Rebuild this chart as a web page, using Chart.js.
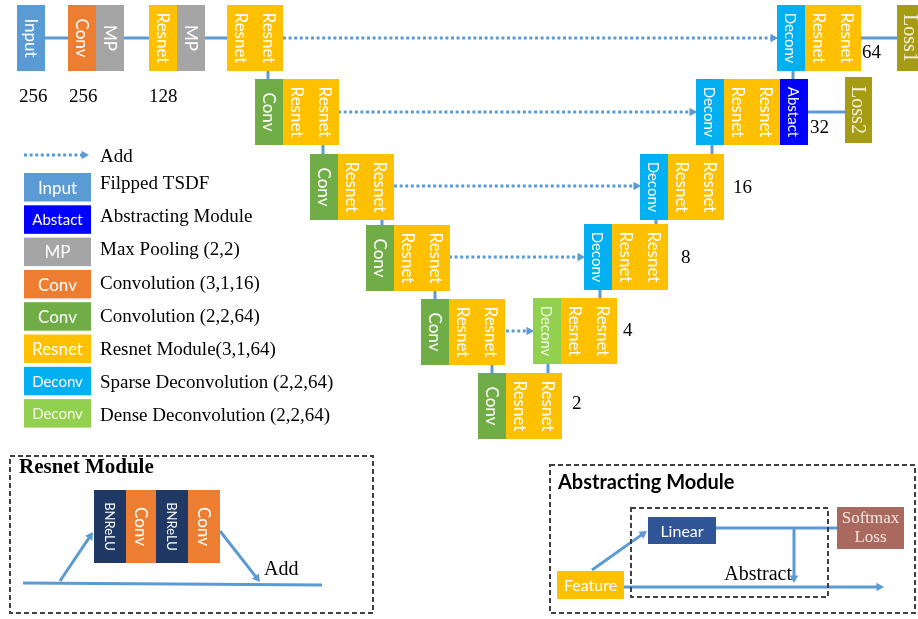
<!DOCTYPE html>
<html>
<head>
<meta charset="utf-8">
<script src="https://cdn.jsdelivr.net/npm/chart.js@4/dist/chart.umd.min.js"></script>
<style>
  html, body { margin: 0; padding: 0; background: #fff; }
  canvas { display: block; }
</style>
</head>
<body>
<canvas id="net" width="918" height="619"></canvas>
<script>
// Network stacks (U shape): left edge, top edge and the kinds of their columns
const stackLeft = [17, 68, 149, 227, 255, 310, 366, 421, 478, 533, 584, 640, 696, 777];
const stackTop = [5, 5, 5, 5, 79, 154, 225, 299, 373, 298, 224, 154, 79, 5];
const stackKinds = [
    ['Input'], ['ConvA', 'MP'], ['Resnet', 'MP'], ['Resnet', 'Resnet'],
    ['ConvB', 'Resnet', 'Resnet'], ['ConvB', 'Resnet', 'Resnet'], ['ConvB', 'Resnet', 'Resnet'],
    ['ConvB', 'Resnet', 'Resnet'], ['ConvB', 'Resnet', 'Resnet'],
    ['Dense', 'Resnet', 'Resnet'], ['Deconv', 'Resnet', 'Resnet'], ['Deconv', 'Resnet', 'Resnet'],
    ['Deconv', 'Resnet', 'Resnet', 'Abstact'], ['Deconv', 'Resnet', 'Resnet']
];

// Loss heads
const lossNames = ['Loss1', 'Loss2'];
const lossLeft = [897, 845];
const lossTop = [5, 77];

// Resolution labels
const sizeLabels = ['256', '256', '128', '64', '32', '16', '8', '4', '2'];
const sizeX = [19, 69, 149, 862, 810, 733, 681, 623, 572];
const sizeY = [97, 97, 97, 53, 128, 188, 258, 331, 404];

// Legend
const legendKinds = ['Input', 'Abstact', 'MP', 'ConvA', 'ConvB', 'Resnet', 'Deconv', 'Dense'];
const legendTexts = ['Filpped TSDF', 'Abstracting Module', 'Max Pooling (2,2)', 'Convolution (3,1,16)',
    'Convolution (2,2,64)', 'Resnet Module(3,1,64)', 'Sparse Deconvolution (2,2,64)', 'Dense Deconvolution (2,2,64)'];

// Connections [x0, y0, x1, y1]
const solidLinks = [
    [45, 38, 68, 38], [124, 38, 149, 38], [205, 38, 227, 38], [861, 38, 897, 38], [808, 112, 845, 112],
    [268, 71, 268, 79], [323, 145, 323, 154], [382, 220, 382, 225], [435, 291, 435, 299], [492, 365, 492, 373],
    [548, 363, 548, 373], [600, 290, 600, 298], [656, 220, 656, 224], [712, 145, 712, 154], [793, 71, 793, 79],
    [23, 583, 322, 585], [716, 528, 837, 528]
];
const arrowLinks = [
    [60, 581, 93, 532], [220, 531, 260, 582], [592, 570, 647, 531], [794, 528, 794, 583], [624, 587, 884, 587]
];
const skipLinks = [
    [283, 38, 778, 38], [338, 112, 697, 112], [394, 186, 641, 186], [449, 257, 585, 257], [506, 331, 534, 331],
    [24, 155, 89, 155]
];

// Resnet module detail
const resKinds = ['BNReLU', 'ConvA', 'BNReLU', 'ConvA'];
const resLeft = [94, 126, 156, 188];

const kindColor = {
    Input: '#5B9BD5', ConvA: '#ED7D31', MP: '#A5A5A5', Resnet: '#FFC000', ConvB: '#70AD47',
    Deconv: '#00B0F0', Dense: '#92D050', Abstact: '#0000FF', BNReLU: '#203864'
};
const kindText = {
    Input: 'Input', ConvA: 'Conv', MP: 'MP', Resnet: 'Resnet', ConvB: 'Conv',
    Deconv: 'Deconv', Dense: 'Deconv', Abstact: 'Abstact', BNReLU: 'BNReLU'
};
const kindFont = {
    Input: 17, ConvA: 17, MP: 17, Resnet: 17, ConvB: 17, Deconv: 15, Dense: 15, Abstact: 15, BNReLU: 13
};

const COL_W = 28, COL_H = 66;
const LINE = '#5B9BD5';
const SANS = 'Lato, "Open Sans", sans-serif';
const SERIF = '"Liberation Serif", "Times New Roman", serif';

function makeLine(l, opts) {
    let [x0, y0, x1, y1] = l;
    const ds = {
        data: [{x: x0, y: y0}, {x: x1, y: y1}],
        showLine: true,
        borderColor: LINE,
        borderWidth: 3,
        borderCapStyle: 'butt',
        pointRadius: 0
    };
    if (opts.arrow) {
        const r = 5;
        const len = Math.hypot(x1 - x0, y1 - y0);
        const ux = (x1 - x0) / len, uy = (y1 - y0) / len;
        ds.data[1] = {x: x1 - ux * r, y: y1 - uy * r};
        ds.pointRadius = [0, r];
        ds.pointStyle = 'triangle';
        ds.rotation = Math.atan2(ux, -uy) * 180 / Math.PI;
        ds.pointBackgroundColor = LINE;
        ds.pointBorderWidth = 0;
    }
    if (opts.dotted) ds.borderDash = [3, 2.6];
    return ds;
}

const datasets = [
    ...solidLinks.map(l => makeLine(l, {})),
    ...arrowLinks.map(l => makeLine(l, {arrow: true})),
    ...skipLinks.map(l => makeLine(l, {arrow: true, dotted: true}))
];

function drawBox(ctx, sx, sy, x0, y0, x1, y1, color, text, font, textColor, vertical) {
    const X0 = sx(x0), Y0 = sy(y0), X1 = sx(x1), Y1 = sy(y1);
    ctx.fillStyle = color;
    ctx.fillRect(X0, Y0, X1 - X0, Y1 - Y0);
    if (!text) return;
    ctx.save();
    ctx.translate((X0 + X1) / 2, (Y0 + Y1) / 2);
    if (vertical) ctx.rotate(Math.PI / 2);
    ctx.fillStyle = textColor || '#fff';
    ctx.font = font;
    ctx.textAlign = 'center';
    ctx.textBaseline = 'middle';
    ctx.fillText(text, 0, 1);
    ctx.restore();
}

function dashedRect(ctx, sx, sy, x0, y0, x1, y1) {
    ctx.save();
    ctx.strokeStyle = '#404040';
    ctx.lineWidth = 2;
    ctx.setLineDash([5, 3]);
    ctx.strokeRect(sx(x0), sy(y0), sx(x1) - sx(x0), sy(y1) - sy(y0));
    ctx.restore();
}

function label(ctx, text, x, y, font, align) {
    ctx.fillStyle = '#000';
    ctx.font = font;
    ctx.textAlign = align || 'left';
    ctx.textBaseline = 'middle';
    ctx.fillText(text, x, y);
}

const diagram = {
    id: 'diagram',
    afterDatasetsDraw(chart) {
        const ctx = chart.ctx;
        const sx = v => chart.scales.x.getPixelForValue(v);
        const sy = v => chart.scales.y.getPixelForValue(v);

        // U-net stacks
        stackKinds.forEach((cols, i) => {
            cols.forEach((k, j) => {
                const x0 = stackLeft[i] + j * COL_W;
                drawBox(ctx, sx, sy, x0, stackTop[i], x0 + COL_W, stackTop[i] + COL_H,
                    kindColor[k], kindText[k], kindFont[k] + 'px ' + SANS,
                    k === 'Dense' ? '#F4FBE8' : '#fff', true);
            });
        });
        lossNames.forEach((n, i) => {
            drawBox(ctx, sx, sy, lossLeft[i], lossTop[i], lossLeft[i] + 27, lossTop[i] + COL_H,
                '#A69C14', n, '20px ' + SERIF, '#F2F0DC', true);
        });
        sizeLabels.forEach((t, i) => label(ctx, t, sx(sizeX[i]), sy(sizeY[i]), '19px ' + SERIF));

        // legend
        label(ctx, 'Add', sx(100), sy(157), '19px ' + SERIF);
        legendKinds.forEach((k, i) => {
            const top = 173 + i * 32.3;
            drawBox(ctx, sx, sy, 24, top, 91, top + 28.5, kindColor[k], kindText[k],
                (kindFont[k]) + 'px ' + SANS, k === 'Dense' ? '#F4FBE8' : '#fff', false);
            label(ctx, legendTexts[i], sx(100), sy(184 + i * 33.2), '19px ' + SERIF);
        });

        // Resnet module
        dashedRect(ctx, sx, sy, 10, 456, 373, 613);
        label(ctx, 'Resnet Module', sx(19), sy(468), 'bold 21px ' + SERIF);
        resKinds.forEach((k, i) => {
            const right = i < resKinds.length - 1 ? resLeft[i + 1] : 220;
            drawBox(ctx, sx, sy, resLeft[i], 490, right, 563, kindColor[k], kindText[k],
                kindFont[k] + 'px ' + SANS, '#fff', true);
        });
        label(ctx, 'Add', sx(264), sy(570), '20px ' + SERIF);

        // Abstracting module
        dashedRect(ctx, sx, sy, 550, 465, 915, 613);
        dashedRect(ctx, sx, sy, 631, 508, 828, 597);
        label(ctx, 'Abstracting Module', sx(558), sy(483), 'bold 20px ' + SANS);
        drawBox(ctx, sx, sy, 648, 517, 716, 544, '#2F5597', 'Linear', '16px ' + SANS, '#fff', false);
        drawBox(ctx, sx, sy, 837, 507, 904, 549, '#A9695E', null);
        ctx.fillStyle = '#F3E6E2';
        ctx.font = '17px ' + SERIF;
        ctx.textAlign = 'center';
        ctx.fillText('Softmax', sx(870.5), sy(519));
        ctx.fillText('Loss', sx(870.5), sy(538));
        drawBox(ctx, sx, sy, 557, 571, 624, 599, '#FFC000', 'Feature', '16px ' + SANS, '#fff', false);
        label(ctx, 'Abstract', sx(792), sy(575), '20px ' + SERIF, 'right');
    }
};

new Chart(document.getElementById('net'), {
    type: 'scatter',
    data: { datasets },
    options: {
        responsive: false,
        animation: false,
        devicePixelRatio: 1,
        events: [],
        layout: { padding: 0, autoPadding: false },
        plugins: { legend: { display: false }, tooltip: { enabled: false } },
        scales: {
            x: { type: 'linear', min: 0, max: 918, display: false },
            y: { type: 'linear', min: 0, max: 619, reverse: true, display: false }
        }
    },
    plugins: [diagram]
});
</script>
</body>
</html>
